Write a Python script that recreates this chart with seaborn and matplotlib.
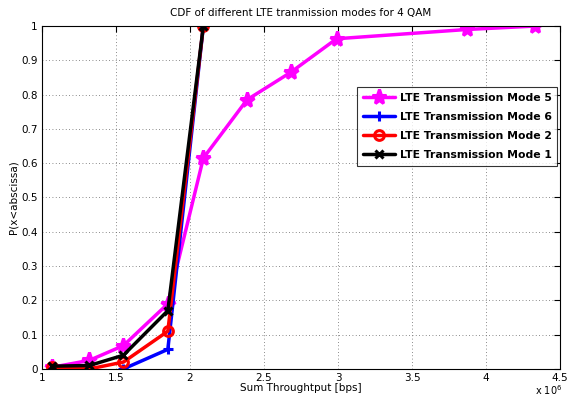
import pandas as pd
import matplotlib
matplotlib.use('Agg')
import matplotlib.pyplot as plt
import matplotlib.ticker as mticker
import seaborn as sns

# throughput in bps (x 1e6) and CDF values
x_mode5 = [1.07e6, 1.32e6, 1.55e6, 1.85e6, 2.09e6, 2.385e6, 2.68e6, 2.99e6, 3.87e6, 4.33e6]
y_mode5 = [0.005, 0.025, 0.068, 0.19, 0.615, 0.785, 0.865, 0.963, 0.99, 1.0]
x_mode6 = [1.55e6, 1.85e6, 2.09e6]
y_mode6 = [0.0, 0.057, 1.0]
x_mode2 = [1.07e6, 1.32e6, 1.55e6, 1.85e6, 2.09e6]
y_mode2 = [0.005, 0.0, 0.02, 0.11, 1.0]
x_mode1 = [1.07e6, 1.32e6, 1.55e6, 1.85e6, 2.09e6]
y_mode1 = [0.008, 0.01, 0.04, 0.17, 1.0]

series = [
    ('LTE Transmission Mode 5', x_mode5, y_mode5, '#ff00ff', '*', 11),
    ('LTE Transmission Mode 6', x_mode6, y_mode6, '#0000ff', '+', 7),
    ('LTE Transmission Mode 2', x_mode2, y_mode2, '#ff0000', 'o', 7),
    ('LTE Transmission Mode 1', x_mode1, y_mode1, '#000000', 'x', 6),
]

sns.set_style('white')
plt.rcParams['font.family'] = ['DejaVu Sans']
plt.rcParams['text.color'] = 'black'
plt.rcParams['axes.labelcolor'] = 'black'
plt.rcParams['xtick.color'] = 'black'
plt.rcParams['ytick.color'] = 'black'

fig = plt.figure(figsize=(5.68, 4.01), dpi=100)
ax = fig.add_axes([0.074, 0.080, 0.912, 0.855])

for name, xs, ys, color, marker, ms in series:
    df = pd.DataFrame({'x': xs, 'y': ys})
    sns.lineplot(data=df, x='x', y='y', ax=ax, color=color, marker=marker,
                 markersize=ms, linewidth=2.5, label=name,
                 markeredgecolor=color, markeredgewidth=2.2,
                 markerfacecolor=color if marker != 'o' else 'none')

ax.set_xlim(1e6, 4.5e6)
ax.set_ylim(0, 1)
ax.set_xticks([1e6, 1.5e6, 2e6, 2.5e6, 3e6, 3.5e6, 4e6, 4.5e6])
ax.set_yticks([0, 0.1, 0.2, 0.3, 0.4, 0.5, 0.6, 0.7, 0.8, 0.9, 1])
ax.xaxis.set_major_formatter(mticker.FuncFormatter(lambda v, p: '%g' % (v / 1e6)))
ax.yaxis.set_major_formatter(mticker.FuncFormatter(lambda v, p: '%g' % v))
fig.text(0.966, 0.01, r'x 10$^6$', fontsize=7, ha='center', va='bottom')

ax.grid(True, linestyle=(0, (1, 3)), color='#666666', linewidth=0.6)
ax.tick_params(direction='in', labelsize=7.5, length=4, top=True, right=True, pad=3)
for s in ax.spines.values():
    s.set_color('black')
    s.set_linewidth(0.8)

ax.set_title('CDF of different LTE tranmission modes for 4 QAM', fontsize=7.5, pad=7)
ax.set_xlabel('Sum Throughtput [bps]', fontsize=7.5, labelpad=0)
ax.set_ylabel('P(x<abscissa)', fontsize=7.5, labelpad=2)

leg = ax.legend(loc='upper right', bbox_to_anchor=(0.994, 0.822), borderaxespad=0,
                prop={'weight': 'bold', 'size': 7.8},
                frameon=True, fancybox=False, edgecolor='black', handlelength=3.0,
                borderpad=0.5, labelspacing=0.85, handletextpad=0.4)
leg.get_frame().set_linewidth(0.8)

fig.savefig('out.png', dpi=100)
